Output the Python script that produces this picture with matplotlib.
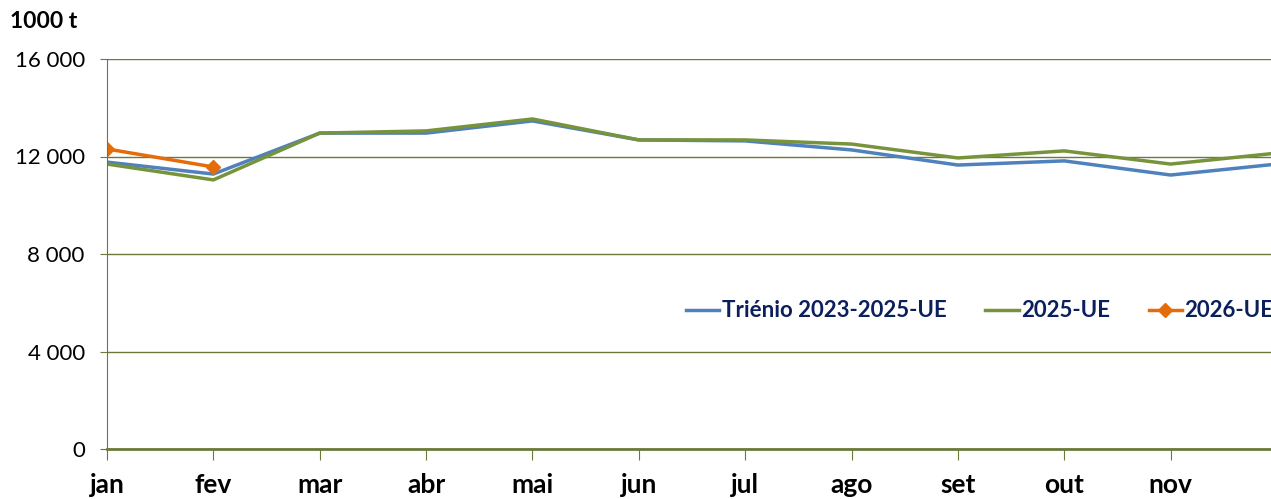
import matplotlib
matplotlib.use('Agg')
import matplotlib.pyplot as plt

months = ['jan', 'fev', 'mar', 'abr', 'mai', 'jun', 'jul', 'ago', 'set', 'out', 'nov', 'dez']
trienio = [11770, 11280, 12960, 12960, 13460, 12680, 12640, 12270, 11650, 11820, 11240, 11690]
ue_2025 = [11690, 11040, 12960, 13050, 13540, 12680, 12680, 12510, 11940, 12230, 11690, 12140]
ue_2026 = [12310, 11570]
yticks = [0, 4000, 8000, 12000, 16000]

plt.rcParams['font.family'] = ['Lato', 'DejaVu Sans']

fig = plt.figure(figsize=(12.71, 4.99), dpi=100)
ax = fig.add_axes([107 / 1271, 50 / 499, 1170 / 1271, 390 / 499])

olive = '#6b7a3a'
navy = '#0b1f5c'

ax.plot(range(12), trienio, color='#4f81bd', lw=2.5, label='Triénio 2023-2025-UE', solid_joinstyle='round')
ax.plot(range(12), ue_2025, color='#77933c', lw=2.5, label='2025-UE', solid_joinstyle='round')
ax.plot(range(2), ue_2026, color='#e46c0a', lw=2.5, marker='D', ms=7, label='2026-UE')

ax.set_xlim(0, 11)
ax.set_ylim(0, 16000)
ax.set_yticks(yticks)
ax.set_yticklabels([f'{v:,}'.replace(',', ' ') for v in yticks], fontsize=16)
ax.set_xticks(range(12))
ax.set_xticklabels(months, fontsize=19, fontweight='bold')
# the last month label falls outside the visible area in the reference
ax.get_xticklabels()[-1].set_visible(False)
ax.tick_params(axis='x', direction='out', length=8, color=olive, pad=9)
ax.tick_params(axis='y', direction='out', length=5, color=olive, pad=11)

ax.grid(axis='y', color=olive, lw=1)
ax.set_axisbelow(True)
for s in ['top', 'right']:
    ax.spines[s].set_visible(False)
ax.spines['left'].set_color(olive)
ax.spines['bottom'].set_color(olive)
ax.spines['bottom'].set_linewidth(2)

fig.text(10 / 1271, 1 - 22 / 499, '1000 t', fontsize=16.5, fontweight='bold', va='center')

leg = ax.legend(loc='center left', bbox_to_anchor=(0.495, 0.354), ncol=3, frameon=False,
                fontsize=16, handlelength=1.5, handletextpad=0.1, columnspacing=1.75,
                borderaxespad=0, borderpad=0)
for t in leg.get_texts():
    t.set_color(navy)
    t.set_fontweight('bold')

fig.savefig('out.png', dpi=100)
